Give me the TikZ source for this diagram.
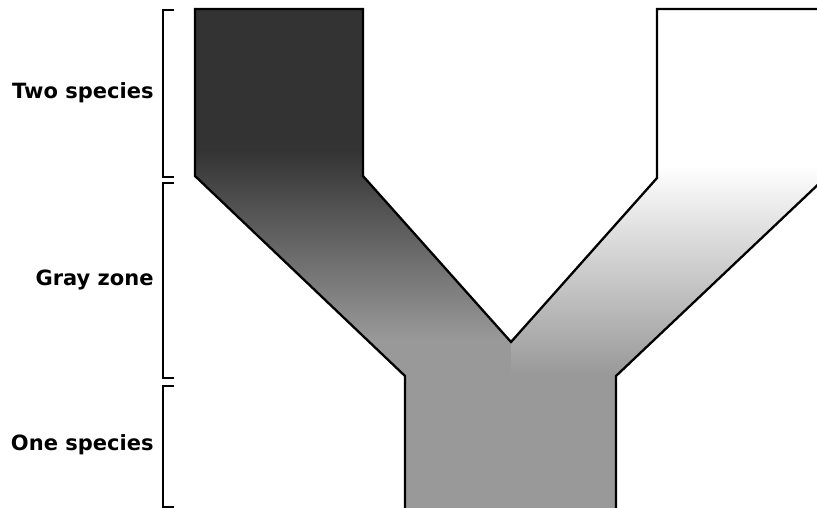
\documentclass[tikz,border=0pt]{standalone}
\usepackage{fontspec}
\setmainfont{DejaVu Sans}
\definecolor{armdark}{HTML}{333333}
\definecolor{stemgray}{HTML}{999999}

\begin{document}
\begin{tikzpicture}[x=1pt, y=-1pt, line width=2.3pt,
    zonelabel/.style={anchor=east, font=\bfseries\fontsize{21}{24}\selectfont}]
  \useasboundingbox (0,0) rectangle (817,508);
  % corners of the Y
  \coordinate (LT) at (195,9);
  \coordinate (LI) at (363,9);
  \coordinate (LO) at (195,176);
  \coordinate (LC) at (363,176);
  \coordinate (V) at (511,342);
  \coordinate (RC) at (657,178);
  \coordinate (RI) at (657,9);
  \coordinate (RT) at (825,9);
  \coordinate (RO) at (825,178);
  \coordinate (SL) at (405,376);
  \coordinate (SR) at (616,376);
  \coordinate (BL) at (405,508);
  \coordinate (BR) at (616,508);
  \coordinate (BM) at (511,508);
  % left half
  \begin{scope}
    \clip (LT)--(LI)--(LC)--(V)--(BM)--(BL)--(SL)--(LO)--cycle;
    \fill[armdark] (190,0) rectangle (520,150);
    \shade[top color=armdark, bottom color=stemgray] (190,150) rectangle (520,340);
    \fill[stemgray] (190,340) rectangle (520,510);
  \end{scope}
  % right half
  \begin{scope}
    \clip (V)--(RC)--(RI)--(RT)--(RO)--(SR)--(BR)--(BM)--cycle;
    \fill[white] (505,0) rectangle (830,165);
    \shade[top color=white, bottom color=stemgray] (505,165) rectangle (830,375);
    \fill[stemgray] (505,375) rectangle (830,510);
  \end{scope}
  \draw[miter limit=10] (BL)--(SL)--(LO)--(LT)--(LI)--(LC)--(V)--(RC)--(RI)--(RT)--(RO)--(SR)--(BR);
  % brackets
  \foreach \ya/\yb in {10/177,183/378,386/507.5}
    \draw (174,\ya) -| (163,\yb) -- (174,\yb);
  \node[zonelabel] (twolbl) at (158,93) {Two species};
  \node[zonelabel] (graylbl) at (158,280) {Gray zone};
  \node[zonelabel] (onelbl) at (158,445) {One species};
\end{tikzpicture}
\end{document}
